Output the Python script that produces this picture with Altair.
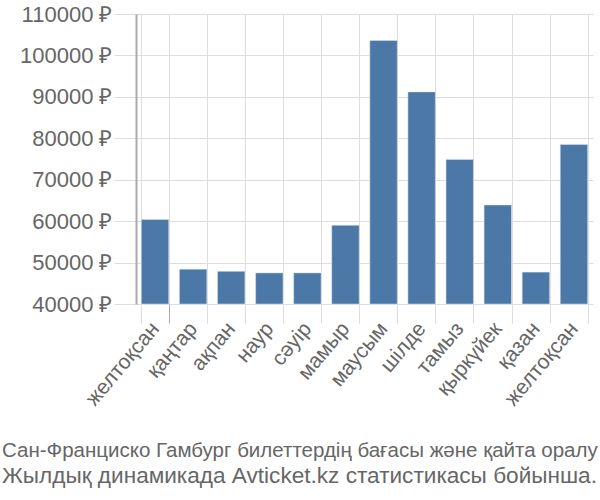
import altair as alt
import pandas as pd

months = ["желтоқсан", "қаңтар", "ақпан", "наур", "сәуір", "мамыр", "маусым",
          "шілде", "тамыз", "қыркүйек", "қазан", "желтоқсан "]
prices = [60400, 48400, 47900, 47500, 47500, 59000, 103600, 91200, 74900, 63900, 47700, 78500]
y_ticks = [40000, 50000, 60000, 70000, 80000, 90000, 100000, 110000]
y_base = 40000
title_line1 = "Сан-Франциско Гамбург билеттердің бағасы және қайта оралу"
title_line2 = "Жылдық динамикада Avticket.kz статистикасы бойынша."

df = pd.DataFrame({"month": months, "price": prices})

label_font = "Liberation Sans"
text_color = "#666666"

chart = alt.Chart(df).mark_bar(color="#4c78a8", stroke="#dde6f0", strokeWidth=0.5).encode(
    x=alt.X("month:N", sort=months,
            scale=alt.Scale(paddingInner=0.28, paddingOuter=0.14),
            axis=alt.Axis(title=None, labelAngle=-50, labelAlign="right", labelBaseline="middle",
                          tickBand="extent", grid=True, gridColor="#dddddd",
                          domain=False, ticks=True,
                          tickColor={"condition": {"test": "datum.value === 'желтоқсан'",
                                                   "value": "#aaaaaa"},
                                     "value": "#dddddd"},
                          tickSize=19,
                          labelPadding=2, labelFont=label_font, labelFontSize=21,
                          labelColor=text_color, labelExpr="trim(datum.label)")),
    y=alt.Y("price:Q", scale=alt.Scale(domain=[40000, 110000], zero=False, nice=False),
            axis=alt.Axis(title=None, values=y_ticks, grid=True, gridColor="#dddddd",
                          domain=True, domainColor="#aaaaaa", domainWidth=2,
                          tickColor="#dddddd", tickSize=22, labelPadding=2,
                          labelFont=label_font, labelFontSize=22, labelColor=text_color,
                          labelExpr="format(datum.value, 'd') + ' ₽'")),
    y2=alt.datum(y_base),
).properties(
    width=457, height=290,
    autosize=alt.AutoSizeParams(type="none"),
    padding={"left": 136, "top": 14, "right": 7, "bottom": 196},
    title=alt.TitleParams(text=title_line1, subtitle=title_line2,
                          orient="bottom", anchor="start", frame="group",
                          dx=-134, font=label_font, fontSize=20.5, fontWeight="normal",
                          color=text_color, lineHeight=25, offset=32,
                          subtitleFont=label_font, subtitleFontSize=22.6,
                          subtitleColor=text_color, subtitlePadding=3),
).configure_view(stroke=None)

chart.save("out.html", embed_options={"renderer": "svg", "actions": False})
